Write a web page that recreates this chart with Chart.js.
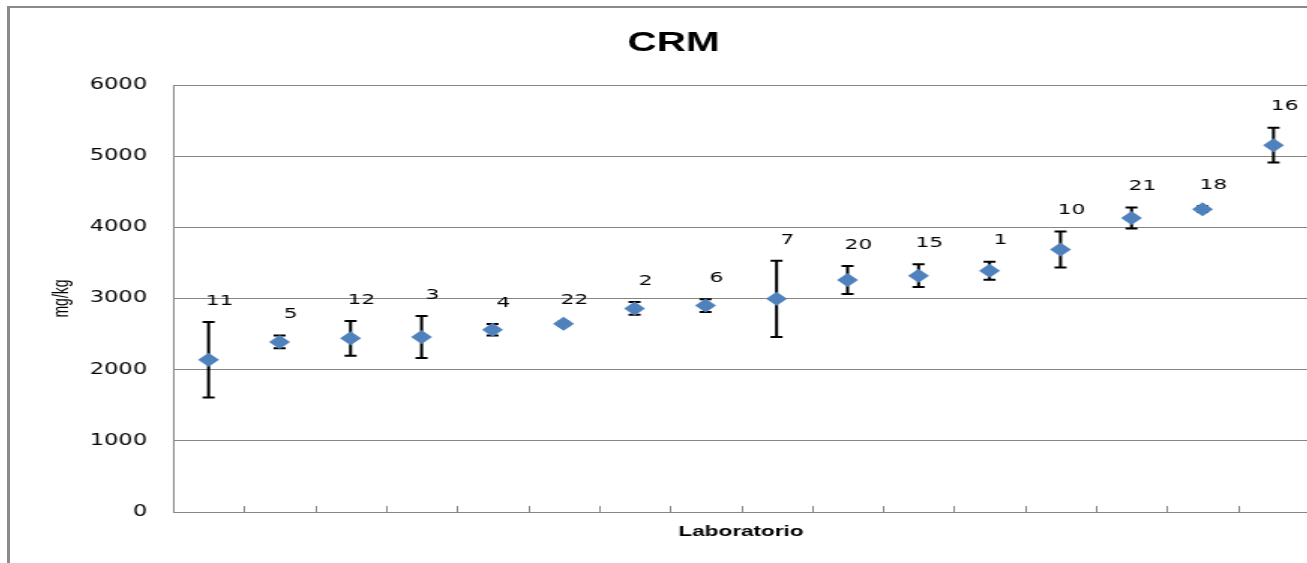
<!DOCTYPE html>
<html><head><meta charset="utf-8">
<script src="https://cdn.jsdelivr.net/npm/chart.js@4.4.0/dist/chart.umd.min.js"></script>
<style>
html,body{margin:0;padding:0;background:#fff;overflow:hidden;width:1307px;height:563px;}
#wrap{position:absolute;left:0;top:0;width:1307px;height:563px;overflow:hidden;background:#fff;}
#frame{position:absolute;left:7px;top:6px;width:1400px;height:600px;border-left:3px solid #8a8a8a;border-top:2px solid #8a8a8a;pointer-events:none;}
</style></head>
<body><div id="wrap"><canvas id="c" width="847" height="563" style="position:absolute;left:38px;top:0;width:1270.5px;height:563px;"></canvas><div id="frame"></div></div>
<script>
// The reference picture is stretched horizontally; the canvas is drawn narrower and widened by CSS.
const laboratories = ['11','5','12','3','4','22','2','6','7','20','15','1','10','21','18','16'];
const values       = [2140, 2390, 2440, 2460, 2560, 2645, 2860, 2900, 2995, 3260, 3320, 3390, 3690, 4130, 4255, 5155];
const uncertainties= [530, 90, 245, 295, 80, 30, 90, 90, 535, 197, 160, 128, 253, 148, 40, 245];
const yTickValues  = [0, 1000, 2000, 3000, 4000, 5000, 6000];

const GRAY = '#868686';

const errorBars = {
  id: 'errorBars',
  beforeDatasetsDraw(chart) {
    const {ctx, scales: {y}} = chart;
    const meta = chart.getDatasetMeta(0);
    ctx.save();
    ctx.strokeStyle = '#000';
    ctx.lineWidth = 2;
    meta.data.forEach((pt, i) => {
      const top = y.getPixelForValue(values[i] + uncertainties[i]);
      const bot = y.getPixelForValue(values[i] - uncertainties[i]);
      ctx.beginPath();
      ctx.moveTo(pt.x, top); ctx.lineTo(pt.x, bot);
      ctx.moveTo(pt.x - 4, top); ctx.lineTo(pt.x + 4, top);
      ctx.moveTo(pt.x - 4, bot); ctx.lineTo(pt.x + 4, bot);
      ctx.stroke();
    });
    ctx.restore();
  }
};

const pointLabels = {
  id: 'pointLabels',
  afterDatasetsDraw(chart) {
    const {ctx, scales: {y}} = chart;
    const meta = chart.getDatasetMeta(0);
    ctx.save();
    ctx.fillStyle = '#000';
    ctx.font = '14.5px "DejaVu Sans"';
    ctx.textAlign = 'center';
    ctx.textBaseline = 'middle';
    meta.data.forEach((pt, i) => {
      const top = y.getPixelForValue(values[i] + uncertainties[i]);
      ctx.fillText(laboratories[i], pt.x + 7.3, top - 21);
    });
    ctx.restore();
  }
};

const innerTicks = {
  id: 'innerTicks',
  afterDraw(chart) {
    const {ctx, scales: {x}, chartArea} = chart;
    ctx.save();
    ctx.strokeStyle = GRAY;
    ctx.lineWidth = 1;
    ctx.beginPath();
    for (let i = 0; i < laboratories.length - 1; i++) {
      const bx = Math.round((x.getPixelForValue(i) + x.getPixelForValue(i + 1)) / 2) + 0.5;
      ctx.moveTo(bx, chartArea.bottom);
      ctx.lineTo(bx, chartArea.bottom - 6);
    }
    ctx.stroke();
    ctx.restore();
  }
};

new Chart(document.getElementById('c'), {
  type: 'line',
  data: {
    labels: laboratories,
    datasets: [{
      data: values,
      showLine: false,
      pointStyle: 'rectRot',
      pointRadius: 7,
      pointHoverRadius: 7,
      backgroundColor: '#4F81BD',
      borderColor: '#4F81BD',
      pointBorderWidth: 0
    }]
  },
  options: {
    responsive: false,
    animation: false,
    devicePixelRatio: 1,
    layout: {autoPadding: false, padding: {left: 0, right: 0, top: 0, bottom: 0}},
    plugins: {
      legend: {display: false},
      tooltip: {enabled: false},
      title: {
        display: true,
        text: 'CRM',
        color: '#000',
        font: {family: '"Liberation Sans"', size: 27, weight: 'bold'},
        padding: {top: 27, bottom: 25.6}
      }
    },
    scales: {
      x: {
        type: 'category',
        offset: true,
        grid: {display: false},
        ticks: {display: false},
        border: {display: true, color: GRAY, width: 1},
        title: {
          display: true,
          text: 'Laboratorio',
          color: '#000',
          font: {family: '"Liberation Sans"', size: 15, weight: 'bold'},
          padding: {top: 0, bottom: 22}
        },
        afterFit(s) { s.height = 51; }
      },
      y: {
        min: 0,
        max: 6000,
        afterBuildTicks(s) { s.ticks = yTickValues.map(v => ({value: v})); },
        ticks: {
          color: '#000',
          font: {family: '"DejaVu Sans"', size: 15},
          padding: 17.3,
          callback: v => String(v)
        },
        grid: {color: GRAY, lineWidth: 1, drawTicks: false},
        border: {display: true, color: GRAY, width: 1},
        title: {
          display: true,
          text: 'mg/kg',
          color: '#000',
          font: {family: '"Liberation Sans"', size: 14},
          padding: {top: 7.6, bottom: 0}
        },
        afterFit(s) { s.width = 90; }
      }
    }
  },
  plugins: [errorBars, pointLabels, innerTicks]
});
</script>
</body></html>
